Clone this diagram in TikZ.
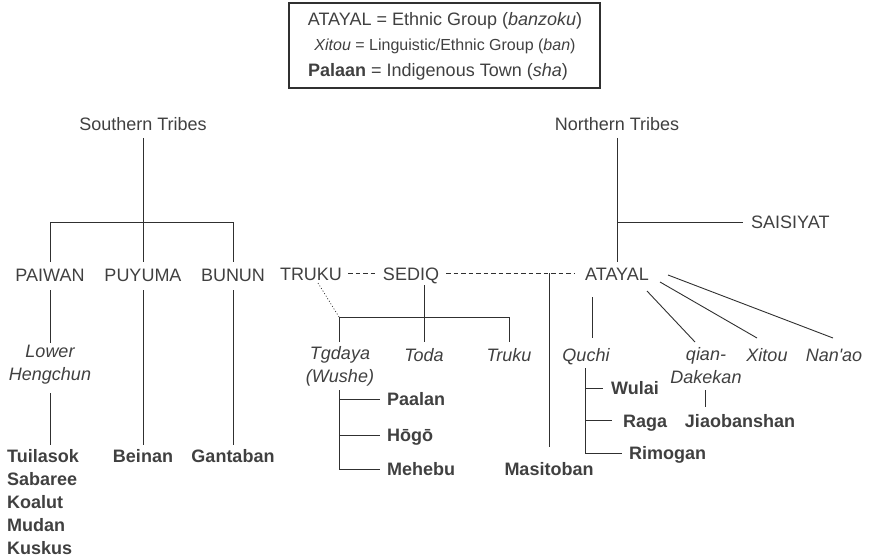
\documentclass[tikz,border=0pt]{standalone}
\usepackage{fontspec}
\setmainfont{Liberation Sans}
\definecolor{tc}{HTML}{404040}
\definecolor{lc}{HTML}{303030}
\begin{document}
\begin{tikzpicture}[x=1pt,y=-1pt,
  lab/.style={font=\fontsize{18}{23}\selectfont, text=tc, inner sep=0pt},
  itl/.style={lab, font=\fontsize{18}{23}\selectfont\itshape},
  bld/.style={lab, font=\fontsize{18}{23}\selectfont\bfseries},
  ln/.style={draw=lc, line width=0.9pt},
  dsh/.style={ln, dash pattern=on 4.5pt off 3pt},
  dtd/.style={draw=lc, line width=0.7pt, dash pattern=on 1pt off 2pt}]
\useasboundingbox (0,0) rectangle (876,559);
% legend
\node[draw=lc, line width=1.1pt, minimum width=311pt, minimum height=85pt, inner sep=0pt] (legend) at (444.5,45.5) {};
\node[lab, anchor=base] (lg1) at (445,26) {ATAYAL = Ethnic Group (\textit{banzoku})};
\node[lab, font=\fontsize{16}{20}\selectfont, anchor=base] (lg2) at (445,51) {\textit{Xitou} = Linguistic/Ethnic Group (\textit{ban})};
\node[lab, anchor=base] (lg3) at (438,77) {\textbf{Palaan} = Indigenous Town (\textit{sha})};
% southern
\node[lab, anchor=base] (st) at (143,131) {Southern Tribes};
\node[lab, anchor=base] (paiwan) at (50,281) {PAIWAN};
\node[lab, anchor=base] (puyuma) at (143,281) {PUYUMA};
\node[lab, anchor=base] (bunun) at (233,281) {BUNUN};
\node[itl, align=center] (lh) at (50,365) {Lower\\Hengchun};
\node[bld, align=left, anchor=north west] (pvil) at (7,449.5) {Tuilasok\\Sabaree\\Koalut\\Mudan\\Kuskus};
\node[bld, anchor=base] (beinan) at (143,462.5) {Beinan};
\node[bld, anchor=base] (gantaban) at (233,462.5) {Gantaban};
\coordinate (stb) at (143,138);
\coordinate (puT) at (143,262);
\coordinate (sl) at (50,222);
\coordinate (sr) at (233,222);
\coordinate (paT) at (50,262);
\coordinate (buT) at (233,262);
\coordinate (paB) at (50,290);
\coordinate (lhT) at (50,343);
\coordinate (lhB) at (50,393);
\coordinate (tuT) at (50,445);
\coordinate (puB) at (143,290);
\coordinate (beT) at (143,445);
\coordinate (buB) at (233,290);
\coordinate (gaT) at (233,445);
\draw[ln] (stb) -- (puT);
\draw[ln] (paT) -- (sl) -- (sr) -- (buT);
\draw[ln] (paB) -- (lhT);
\draw[ln] (lhB) -- (tuT);
\draw[ln] (puB) -- (beT);
\draw[ln] (buB) -- (gaT);
% middle
\node[lab, anchor=base] (truku) at (311,280) {TRUKU};
\node[lab, anchor=base] (sediq) at (411,280) {SEDIQ};
\node[itl, align=center] (tgdaya) at (340,366.5) {Tgdaya\\(Wushe)};
\node[itl, anchor=base] (toda) at (424,361.5) {Toda};
\node[itl, anchor=base] (truku2) at (509,361.5) {Truku};
\node[bld, anchor=base west] (paalan) at (387,405.5) {Paalan};
\node[bld, anchor=base west] (hogo) at (387,441.5) {Hōgō};
\node[bld, anchor=base west] (mehebu) at (387,475.5) {Mehebu};
\node[bld, anchor=base] (masitoban) at (549,475.5) {Masitoban};
\coordinate (d1) at (348,273);
\coordinate (d2) at (377,273);
\coordinate (d3) at (446,273);
\coordinate (d4) at (575,273);
\coordinate (masJ) at (549,273);
\coordinate (masT) at (549,447);
\coordinate (trD) at (318,283);
\coordinate (tgJ) at (339,317);
\coordinate (tgT) at (339,342);
\coordinate (tkJ) at (509,317);
\coordinate (tkT) at (509,342);
\coordinate (sdB) at (424,285);
\coordinate (toT) at (424,342);
\coordinate (tbT) at (339,390);
\coordinate (tbB) at (339,469);
\coordinate (pa1) at (339,399);
\coordinate (pa2) at (380,399);
\coordinate (ho1) at (339,435);
\coordinate (ho2) at (380,435);
\coordinate (me2) at (380,469);
\draw[dsh] (d1) -- (d2);
\draw[dsh] (d3) -- (d4);
\draw[ln] (masJ) -- (masT);
\draw[dtd] (trD) -- (tgJ);
\draw[ln] (tgT) -- (tgJ) -- (tkJ) -- (tkT);
\draw[ln] (sdB) -- (toT);
\draw[ln] (tbT) -- (tbB) -- (me2);
\draw[ln] (pa1) -- (pa2);
\draw[ln] (ho1) -- (ho2);
% northern
\node[lab, anchor=base] (nt) at (617,131) {Northern Tribes};
\node[lab, anchor=base west] (saisiyat) at (751,228.5) {SAISIYAT};
\node[lab, anchor=base] (atayal) at (617,280) {ATAYAL};
\node[itl, anchor=base] (quchi) at (586,361.5) {Quchi};
\node[itl, align=center] (qian) at (706,366) {qian-\\Dakekan};
\node[itl, anchor=base] (xitou) at (767,361.5) {Xitou};
\node[itl, anchor=base] (nanao) at (834,361.5) {Nan\textquotesingle ao};
\node[bld, anchor=base west] (wulai) at (611,394.5) {Wulai};
\node[bld, anchor=base west] (raga) at (623,427.5) {Raga};
\node[bld, anchor=base west] (rimogan) at (629,459.5) {Rimogan};
\node[bld, anchor=base] (jiao) at (740,427.5) {Jiaobanshan};
\coordinate (ntB) at (617,138);
\coordinate (ntJ) at (617,222);
\coordinate (saL) at (743,222);
\coordinate (atT) at (617,262);
\coordinate (quT) at (592,297);
\coordinate (quB) at (592,338);
\coordinate (a1) at (647,291);
\coordinate (qiT) at (695,342);
\coordinate (a2) at (660,282);
\coordinate (xiT) at (757,338);
\coordinate (a3) at (668,275);
\coordinate (naT) at (833,338);
\coordinate (jbT) at (705,390);
\coordinate (jbB) at (705,407);
\coordinate (qbT) at (585,368);
\coordinate (qbB) at (585,453);
\coordinate (wu1) at (585,388);
\coordinate (wu2) at (603,388);
\coordinate (ra1) at (585,420);
\coordinate (ra2) at (612,420);
\coordinate (ri2) at (622,453);
\draw[ln] (ntB) -- (atT);
\draw[ln] (ntJ) -- (saL);
\draw[ln] (quT) -- (quB);
\draw[ln] (a1) -- (qiT);
\draw[ln] (a2) -- (xiT);
\draw[ln] (a3) -- (naT);
\draw[ln] (jbT) -- (jbB);
\draw[ln] (qbT) -- (qbB) -- (ri2);
\draw[ln] (wu1) -- (wu2);
\draw[ln] (ra1) -- (ra2);
\end{tikzpicture}
\end{document}
